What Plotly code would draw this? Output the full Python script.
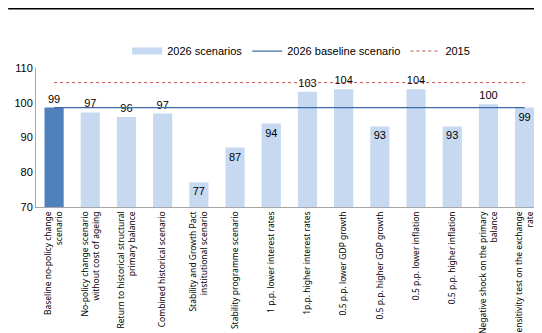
import plotly.graph_objects as go

SCENARIO_COLOR = "#c6d9f1"
BASELINE_BAR = "#4f81bd"
BASELINE_LINE = "#3f6aa8"
Y2015_COLOR = "#c0504d"

scenarios = [
    "Baseline no-policy change<br>scenario",
    "No-policy change scenario<br>without cost of ageing",
    "Return to historical structural<br>primary balance",
    "Combined historical scenario",
    "Stability and Growth Pact<br>institutional scenario",
    "Stability programme scenario",
    "1 p.p. lower interest rates",
    "1p.p. higher interest rates",
    "0.5 p.p. lower GDP growth",
    "0.5 p.p. higher GDP growth",
    "0.5 p.p. lower inflation",
    "0.5 p.p. higher inflation",
    "Negative shock on the primary<br>balance",
    "Sensitivity test on the exchange<br>rate",
]
values_2026 = [98.6, 97.2, 95.9, 96.9, 77.1, 87.1, 94.0, 103.2, 103.9, 93.2, 103.9, 93.2, 99.6, 98.6]
baseline_2026 = 98.6
level_2015 = 105.8
label_pos = ["outside", "outside", "outside", "outside", "inside", "inside", "inside",
             "outside", "outside", "inside", "outside", "inside", "outside", "inside"]

fig = go.Figure()
# legend-only entry: a thick line gives the wide flat swatch of the original
fig.add_trace(go.Scatter(x=[scenarios[0]], y=[None], mode="lines", name="2026 scenarios",
                         line=dict(color=SCENARIO_COLOR, width=7)))
fig.add_trace(go.Bar(
    x=scenarios, y=values_2026, name="2026 scenarios", showlegend=False,
    marker_color=[BASELINE_BAR] + [SCENARIO_COLOR] * (len(scenarios) - 1),
    marker_line_width=0, width=0.53,
    text=[f"{v:.0f}" for v in values_2026], textposition=label_pos,
    insidetextanchor="end", textangle=0,
    textfont=dict(color="#000", size=11), cliponaxis=False,
))
fig.add_trace(go.Scatter(
    x=scenarios, y=[baseline_2026] * len(scenarios), mode="lines",
    name="2026 baseline scenario", line=dict(color=BASELINE_LINE, width=1.3),
))
fig.add_trace(go.Scatter(
    x=scenarios, y=[level_2015] * len(scenarios), mode="lines",
    name="2015", line=dict(color=Y2015_COLOR, width=1, dash="3px,3px"),
))

# page body keeps its 8px margin, so the figure is 8px smaller each way
fig.update_layout(
    width=534, height=325, plot_bgcolor="white", paper_bgcolor="white",
    margin=dict(l=28, r=0, t=60, b=126, autoexpand=False),
    font=dict(family="Liberation Sans, Arial", size=11, color="#000"),
    showlegend=True, barmode="overlay",
    legend=dict(orientation="h", x=0.524, xanchor="center", y=1.122, yanchor="middle",
                font=dict(size=11), tracegroupgap=0),
    shapes=[dict(type="line", xref="paper", yref="paper", x0=-0.055, x1=1.0,
                 y0=1.426, y1=1.426, line=dict(color="#000", width=1.5))],
)
fig.update_xaxes(
    type="category", range=[-0.5, 13.48], showline=True, linecolor="#a6a6a6", linewidth=1,
    ticks="", tickangle=-90, tickfont=dict(family="Noto Sans", size=8.5),
    automargin=False,
)
fig.update_yaxes(
    range=[70, 110], dtick=10, showline=True, linecolor="#a6a6a6", linewidth=1,
    showgrid=False, zeroline=False, ticks="", tickfont=dict(size=11),
    automargin=False,
)

fig.write_html("out.html")
